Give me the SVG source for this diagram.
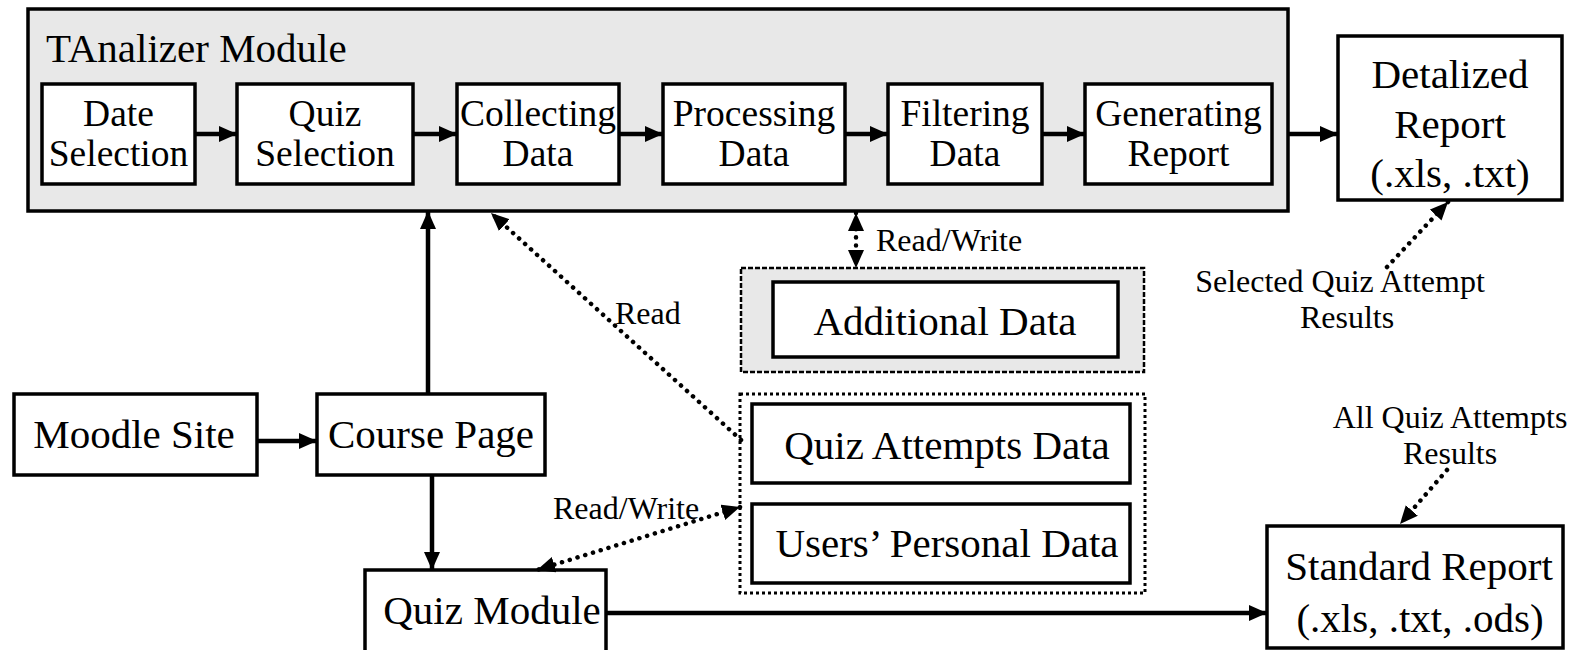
<svg xmlns="http://www.w3.org/2000/svg" width="1581" height="650" viewBox="0 0 1581 650">
<style>
  text { font-family: "Liberation Serif", "Times New Roman", serif; fill: #000; }
  .big { font-size: 41px; }
  .step { font-size: 37.5px; text-anchor: middle; }
  .lbl { font-size: 32px; }
  .mid { text-anchor: middle; }
  .box { fill: #fff; stroke: #000; stroke-width: 3.5; }
  .grey { fill: #e8e8e8; stroke: #000; stroke-width: 3.5; }
  .solid { fill: none; stroke: #000; stroke-width: 4.5; }
  .dots { fill: none; stroke: #000; stroke-width: 4.5; stroke-dasharray: 0.1 8; stroke-linecap: round; }
</style>
<defs>
  <marker id="ah" viewBox="0 0 18 16" refX="18" refY="8" markerWidth="18" markerHeight="16" markerUnits="userSpaceOnUse" orient="auto-start-reverse">
    <path d="M0,0 L18,8 L0,16 Z" fill="#000"/>
  </marker>
</defs>

<g id="tanalizer">
  <rect class="grey" x="28" y="9" width="1260" height="202"/>
  <text class="big" x="46" y="62">TAnalizer Module</text>
</g>
<g id="date-selection">
  <rect class="box" x="42" y="84" width="153" height="100"/>
  <text class="step" x="118.5" y="126">Date</text>
  <text class="step" x="118.5" y="166">Selection</text>
</g>
<g id="quiz-selection">
  <rect class="box" x="237" y="84" width="176" height="100"/>
  <text class="step" x="325" y="126">Quiz</text>
  <text class="step" x="325" y="166">Selection</text>
</g>
<g id="collecting-data">
  <rect class="box" x="457" y="84" width="162" height="100"/>
  <text class="step" x="538" y="126">Collecting</text>
  <text class="step" x="538" y="166">Data</text>
</g>
<g id="processing-data">
  <rect class="box" x="663" y="84" width="182" height="100"/>
  <text class="step" x="754" y="126">Processing</text>
  <text class="step" x="754" y="166">Data</text>
</g>
<g id="filtering-data">
  <rect class="box" x="888" y="84" width="154" height="100"/>
  <text class="step" x="965" y="126">Filtering</text>
  <text class="step" x="965" y="166">Data</text>
</g>
<g id="generating-report">
  <rect class="box" x="1085" y="84" width="187" height="100"/>
  <text class="step" x="1178.5" y="126">Generating</text>
  <text class="step" x="1178.5" y="166">Report</text>
</g>
<g id="detalized-report">
  <rect class="box" x="1338" y="36" width="224" height="164"/>
  <text class="big mid" x="1450" y="88">Detalized</text>
  <text class="big mid" x="1450" y="138">Report</text>
  <text class="big mid" x="1450" y="187">(.xls, .txt)</text>
</g>
<g id="moodle-site">
  <rect class="box" x="14" y="394" width="243" height="81"/>
  <text class="big mid" x="134" y="448">Moodle Site</text>
</g>
<g id="course-page">
  <rect class="box" x="317" y="394" width="228" height="81"/>
  <text class="big mid" x="431" y="448">Course Page</text>
</g>
<g id="quiz-module">
  <rect class="box" x="365" y="570" width="241" height="90"/>
  <text class="big mid" x="492" y="624">Quiz Module</text>
</g>
<g id="additional-data">
  <rect x="741" y="268" width="403" height="104" fill="#e8e8e8" stroke="#000" stroke-width="2.5" stroke-dasharray="5 2"/>
  <rect class="box" x="773" y="282" width="345" height="75"/>
  <text class="big mid" x="945" y="335">Additional Data</text>
</g>
<g id="moodle-data">
  <rect x="740" y="394" width="405" height="199" fill="#fff" stroke="#000" stroke-width="3" stroke-dasharray="3 3"/>
  <rect class="box" x="752" y="404" width="378" height="79"/>
  <text class="big mid" x="947" y="459">Quiz Attempts Data</text>
  <rect class="box" x="752" y="504" width="378" height="79"/>
  <text class="big mid" x="947" y="557">Users’ Personal Data</text>
</g>
<g id="standard-report">
  <rect class="box" x="1267" y="526" width="296" height="122"/>
  <text class="big mid" x="1419" y="580">Standard Report</text>
  <text class="big mid" x="1420" y="632">(.xls, .txt, .ods)</text>
</g>

<g id="connectors">
  <line class="solid" x1="195" y1="134" x2="237" y2="134" marker-end="url(#ah)"/>
  <line class="solid" x1="413" y1="134" x2="457" y2="134" marker-end="url(#ah)"/>
  <line class="solid" x1="619" y1="134" x2="663" y2="134" marker-end="url(#ah)"/>
  <line class="solid" x1="845" y1="134" x2="888" y2="134" marker-end="url(#ah)"/>
  <line class="solid" x1="1042" y1="134" x2="1085" y2="134" marker-end="url(#ah)"/>
  <line class="solid" x1="1288" y1="134" x2="1338" y2="134" marker-end="url(#ah)"/>
  <line class="solid" x1="257" y1="441" x2="317" y2="441" marker-end="url(#ah)"/>
  <line class="solid" x1="428" y1="394" x2="428" y2="211" marker-end="url(#ah)"/>
  <line class="solid" x1="432" y1="475" x2="432" y2="570" marker-end="url(#ah)"/>
  <line class="solid" x1="606" y1="613" x2="1267" y2="613" marker-end="url(#ah)"/>
  <line class="dots" x1="741" y1="440" x2="491" y2="213" marker-end="url(#ah)"/>
  <line class="dots" x1="856" y1="213" x2="856" y2="268" marker-start="url(#ah)" marker-end="url(#ah)"/>
  <line class="dots" x1="740" y1="507" x2="537" y2="570" marker-start="url(#ah)" marker-end="url(#ah)"/>
  <line class="dots" x1="1387" y1="267" x2="1448" y2="202" marker-end="url(#ah)"/>
  <line class="dots" x1="1447" y1="470" x2="1400" y2="524" marker-end="url(#ah)"/>
  <text class="lbl" x="876" y="251">Read/Write</text>
  <text class="lbl" x="615" y="324">Read</text>
  <text class="lbl" x="553" y="519">Read/Write</text>
  <text class="lbl mid" x="1340" y="292">Selected Quiz Attempt</text>
  <text class="lbl mid" x="1347" y="328">Results</text>
  <text class="lbl mid" x="1450" y="428">All Quiz Attempts</text>
  <text class="lbl mid" x="1450" y="464">Results</text>
</g>
</svg>
